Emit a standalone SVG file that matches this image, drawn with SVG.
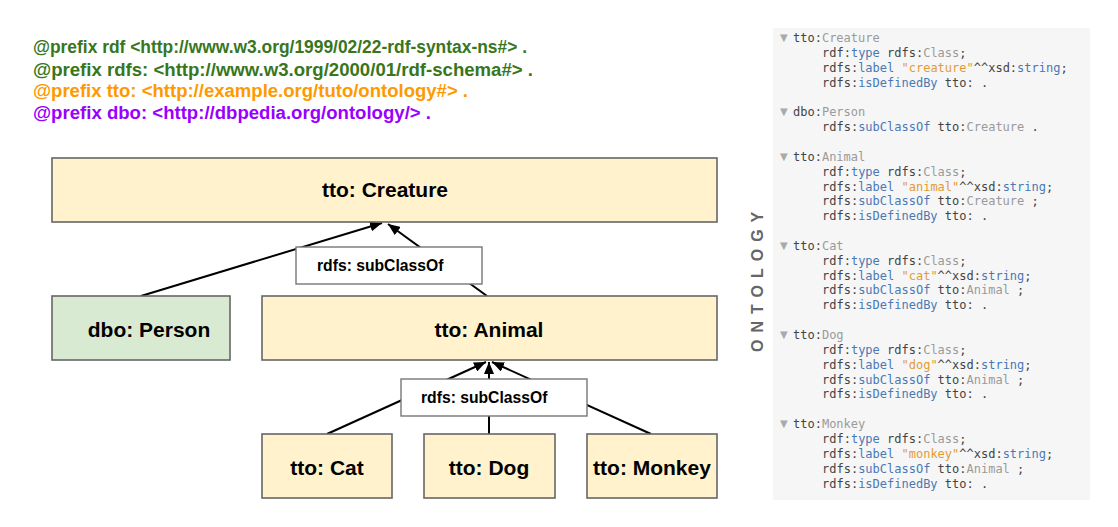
<svg xmlns="http://www.w3.org/2000/svg" width="1118" height="527" viewBox="0 0 1118 527">
<style>
.hdr{font-family:"Liberation Sans",Arial,sans-serif;font-weight:bold;font-size:18px}
.node{stroke:#666;stroke-width:1.6}
.cls{fill:#fff2cc}
.ext{fill:#d9ead3}
.nt{font-family:"Liberation Sans",Arial,sans-serif;font-weight:bold;font-size:21px;fill:#000}
.lbl{fill:#fff;stroke:#777;stroke-width:1.4}
.lt{font-family:"Liberation Sans",Arial,sans-serif;font-weight:bold;font-size:15.7px;fill:#000}
.edge{stroke:#000;stroke-width:2;fill:none}
.code{font-family:"DejaVu Sans Mono","Liberation Mono",monospace;font-size:12px;fill:#444}
.b{fill:#4a78b5}.g{fill:#9a9a9a}.o{fill:#e39b35}
.tri{font-family:"DejaVu Sans",sans-serif;font-size:10px;fill:#aaa}
.side{font-family:"Liberation Sans",Arial,sans-serif;font-weight:bold;font-size:16px;fill:#666;letter-spacing:7px}
</style>
<defs>
<marker id="ah" markerWidth="12" markerHeight="10" refX="12" refY="5" orient="auto" markerUnits="userSpaceOnUse">
<path d="M0,0 L12,5 L0,10 z" fill="#000"/>
</marker>
</defs>
<g id="prefixes">
<text class="hdr" x="33" y="53" fill="#38761d" textLength="494" lengthAdjust="spacingAndGlyphs">@prefix rdf &lt;http://www.w3.org/1999/02/22-rdf-syntax-ns#&gt; .</text>
<text class="hdr" x="33" y="76" fill="#38761d" textLength="500" lengthAdjust="spacingAndGlyphs">@prefix rdfs: &lt;http://www.w3.org/2000/01/rdf-schema#&gt; .</text>
<text class="hdr" x="33" y="97" fill="#ff9900" textLength="435" lengthAdjust="spacingAndGlyphs">@prefix tto: &lt;http://example.org/tuto/ontology#&gt; .</text>
<text class="hdr" x="33" y="119" fill="#9900ff" textLength="398" lengthAdjust="spacingAndGlyphs">@prefix dbo: &lt;http://dbpedia.org/ontology/&gt; .</text>
</g>
<g id="connectors">
<line class="edge" x1="141" y1="296" x2="382" y2="223" marker-end="url(#ah)"/>
<line class="edge" x1="487" y1="296" x2="388" y2="224" marker-end="url(#ah)"/>
<line class="edge" x1="327" y1="434" x2="486" y2="362" marker-end="url(#ah)"/>
<line class="edge" x1="489" y1="434" x2="489" y2="362" marker-end="url(#ah)"/>
<line class="edge" x1="651" y1="434" x2="492" y2="362" marker-end="url(#ah)"/>
<g id="label1"><rect class="lbl" x="296" y="247" width="186" height="37"/><text class="lt" x="317" y="271">rdfs: subClassOf</text></g>
<g id="label2"><rect class="lbl" x="401" y="379" width="186" height="37"/><text class="lt" x="421" y="403">rdfs: subClassOf</text></g>
</g>
<g id="creature"><rect class="node cls" x="52" y="158" width="665" height="64"/><text class="nt" x="385" y="197" text-anchor="middle">tto: Creature</text></g>
<g id="person"><rect class="node ext" x="52" y="296" width="178" height="64"/><text class="nt" x="149" y="337" text-anchor="middle">dbo: Person</text></g>
<g id="animal"><rect class="node cls" x="262" y="296" width="455" height="64"/><text class="nt" x="489" y="337" text-anchor="middle">tto: Animal</text></g>
<g id="cat"><rect class="node cls" x="262" y="434" width="130" height="64"/><text class="nt" x="327" y="475" text-anchor="middle">tto: Cat</text></g>
<g id="dog"><rect class="node cls" x="424" y="434" width="131" height="64"/><text class="nt" x="489" y="475" text-anchor="middle">tto: Dog</text></g>
<g id="monkey"><rect class="node cls" x="587" y="434" width="130" height="64"/><text class="nt" x="652" y="475" text-anchor="middle">tto: Monkey</text></g>
<text class="side" transform="translate(763,352) rotate(-90)" x="0" y="0">ONTOLOGY</text>
<g id="code-panel">
<rect x="773" y="28" width="317" height="472" fill="#f6f6f6"/>
<text class="tri" x="780" y="41">▼</text>
<text class="code" x="793" y="42">tto:<tspan class="g">Creature</tspan></text>
<text class="code" x="822" y="56.85">rdf:<tspan class="b">type</tspan> rdfs:<tspan class="g">Class</tspan>;</text>
<text class="code" x="822" y="71.7">rdfs:<tspan class="b">label</tspan> <tspan class="o">"creature"</tspan>^^xsd:<tspan class="b">string</tspan>;</text>
<text class="code" x="822" y="86.55">rdfs:<tspan class="b">isDefinedBy</tspan> tto: .</text>
<text class="tri" x="780" y="115.25">▼</text>
<text class="code" x="793" y="116.25">dbo:<tspan class="g">Person</tspan></text>
<text class="code" x="822" y="131.1">rdfs:<tspan class="b">subClassOf</tspan> tto:<tspan class="g">Creature</tspan> .</text>
<text class="tri" x="780" y="159.8">▼</text>
<text class="code" x="793" y="160.8">tto:<tspan class="g">Animal</tspan></text>
<text class="code" x="822" y="175.65">rdf:<tspan class="b">type</tspan> rdfs:<tspan class="g">Class</tspan>;</text>
<text class="code" x="822" y="190.5">rdfs:<tspan class="b">label</tspan> <tspan class="o">"animal"</tspan>^^xsd:<tspan class="b">string</tspan>;</text>
<text class="code" x="822" y="205.35">rdfs:<tspan class="b">subClassOf</tspan> tto:<tspan class="g">Creature</tspan> ;</text>
<text class="code" x="822" y="220.2">rdfs:<tspan class="b">isDefinedBy</tspan> tto: .</text>
<text class="tri" x="780" y="248.9">▼</text>
<text class="code" x="793" y="249.9">tto:<tspan class="g">Cat</tspan></text>
<text class="code" x="822" y="264.75">rdf:<tspan class="b">type</tspan> rdfs:<tspan class="g">Class</tspan>;</text>
<text class="code" x="822" y="279.6">rdfs:<tspan class="b">label</tspan> <tspan class="o">"cat"</tspan>^^xsd:<tspan class="b">string</tspan>;</text>
<text class="code" x="822" y="294.45">rdfs:<tspan class="b">subClassOf</tspan> tto:<tspan class="g">Animal</tspan> ;</text>
<text class="code" x="822" y="309.3">rdfs:<tspan class="b">isDefinedBy</tspan> tto: .</text>
<text class="tri" x="780" y="338">▼</text>
<text class="code" x="793" y="339">tto:<tspan class="g">Dog</tspan></text>
<text class="code" x="822" y="353.85">rdf:<tspan class="b">type</tspan> rdfs:<tspan class="g">Class</tspan>;</text>
<text class="code" x="822" y="368.7">rdfs:<tspan class="b">label</tspan> <tspan class="o">"dog"</tspan>^^xsd:<tspan class="b">string</tspan>;</text>
<text class="code" x="822" y="383.55">rdfs:<tspan class="b">subClassOf</tspan> tto:<tspan class="g">Animal</tspan> ;</text>
<text class="code" x="822" y="398.4">rdfs:<tspan class="b">isDefinedBy</tspan> tto: .</text>
<text class="tri" x="780" y="427.1">▼</text>
<text class="code" x="793" y="428.1">tto:<tspan class="g">Monkey</tspan></text>
<text class="code" x="822" y="442.95">rdf:<tspan class="b">type</tspan> rdfs:<tspan class="g">Class</tspan>;</text>
<text class="code" x="822" y="457.8">rdfs:<tspan class="b">label</tspan> <tspan class="o">"monkey"</tspan>^^xsd:<tspan class="b">string</tspan>;</text>
<text class="code" x="822" y="472.65">rdfs:<tspan class="b">subClassOf</tspan> tto:<tspan class="g">Animal</tspan> ;</text>
<text class="code" x="822" y="487.5">rdfs:<tspan class="b">isDefinedBy</tspan> tto: .</text>
</g>
</svg>
